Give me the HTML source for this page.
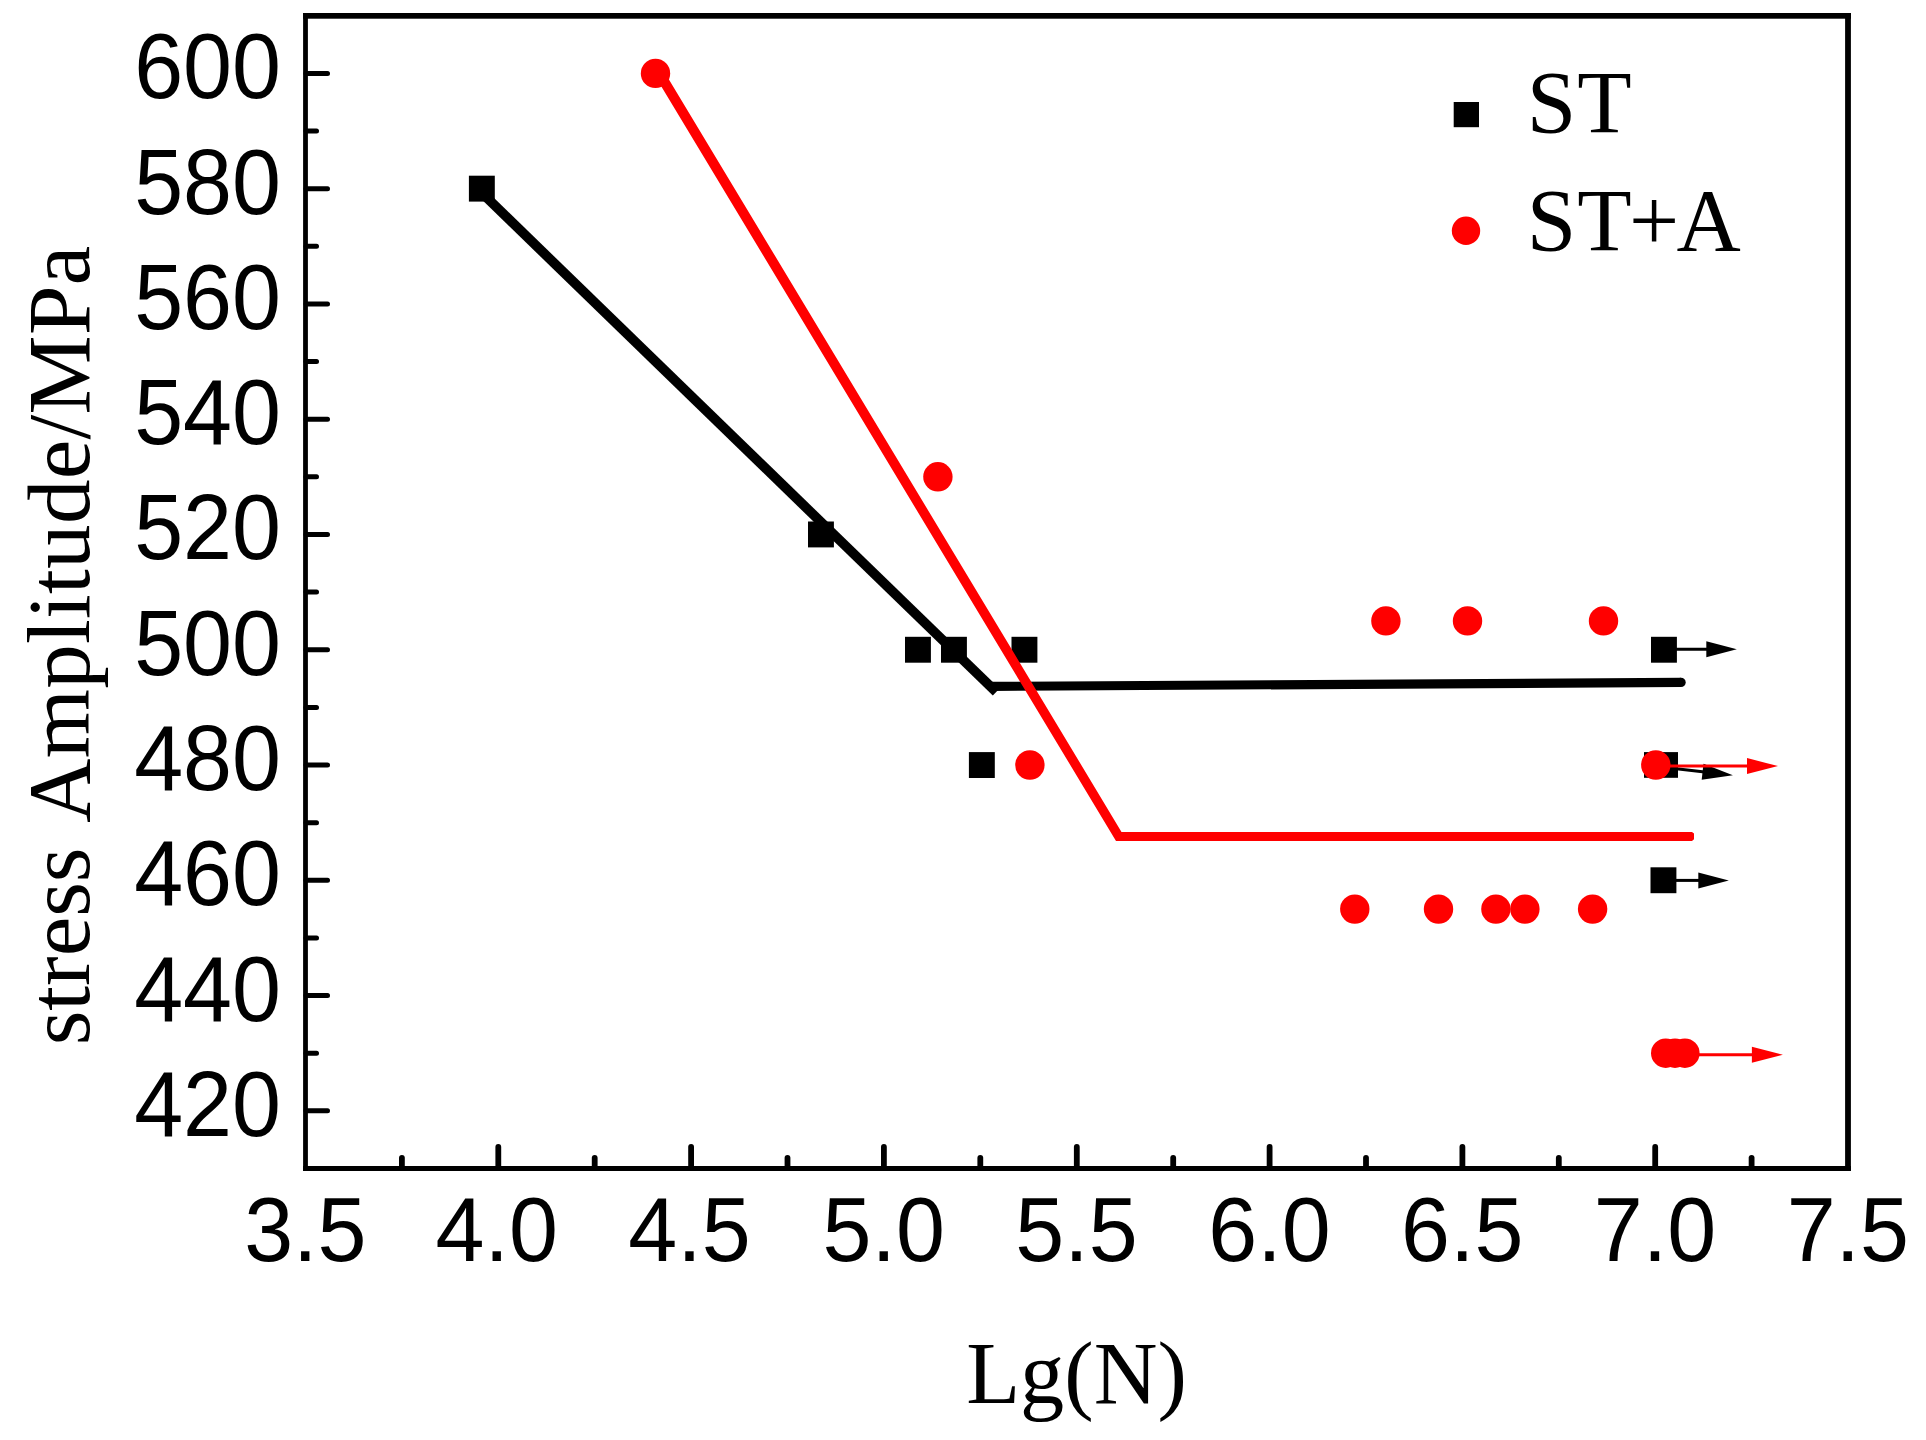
<!DOCTYPE html>
<html lang="en"><head><meta charset="utf-8"><title>S-N curve</title>
<style>html,body{margin:0;padding:0;background:#fff;}body{width:1926px;height:1440px;overflow:hidden;}svg{display:block;}.sans{font-family:"Liberation Sans",Arial,sans-serif;font-size:88px;fill:#000;}.serif{font-family:"Liberation Serif","Times New Roman",serif;font-size:89px;fill:#000;}</style></head><body>
<svg width="1926" height="1440" viewBox="0 0 1926 1440">
<rect x="0" y="0" width="1926" height="1440" fill="#fff"/>
<g stroke="#000" stroke-linecap="round" fill="none">
<line x1="306" y1="1110.8" x2="327.5" y2="1110.8" stroke-width="5"/>
<line x1="306" y1="995.6" x2="327.5" y2="995.6" stroke-width="5"/>
<line x1="306" y1="880.3" x2="327.5" y2="880.3" stroke-width="5"/>
<line x1="306" y1="765.0" x2="327.5" y2="765.0" stroke-width="5"/>
<line x1="306" y1="649.7" x2="327.5" y2="649.7" stroke-width="5"/>
<line x1="306" y1="534.5" x2="327.5" y2="534.5" stroke-width="5"/>
<line x1="306" y1="419.2" x2="327.5" y2="419.2" stroke-width="5"/>
<line x1="306" y1="303.9" x2="327.5" y2="303.9" stroke-width="5"/>
<line x1="306" y1="188.7" x2="327.5" y2="188.7" stroke-width="5"/>
<line x1="306" y1="73.4" x2="327.5" y2="73.4" stroke-width="5"/>
<line x1="306" y1="1053.2" x2="316.5" y2="1053.2" stroke-width="5"/>
<line x1="306" y1="937.9" x2="316.5" y2="937.9" stroke-width="5"/>
<line x1="306" y1="822.7" x2="316.5" y2="822.7" stroke-width="5"/>
<line x1="306" y1="707.4" x2="316.5" y2="707.4" stroke-width="5"/>
<line x1="306" y1="592.1" x2="316.5" y2="592.1" stroke-width="5"/>
<line x1="306" y1="476.8" x2="316.5" y2="476.8" stroke-width="5"/>
<line x1="306" y1="361.6" x2="316.5" y2="361.6" stroke-width="5"/>
<line x1="306" y1="246.3" x2="316.5" y2="246.3" stroke-width="5"/>
<line x1="306" y1="131.0" x2="316.5" y2="131.0" stroke-width="5"/>
<line x1="498.3" y1="1168" x2="498.3" y2="1147" stroke-width="5.8"/>
<line x1="691.1" y1="1168" x2="691.1" y2="1147" stroke-width="5.8"/>
<line x1="883.9" y1="1168" x2="883.9" y2="1147" stroke-width="5.8"/>
<line x1="1076.8" y1="1168" x2="1076.8" y2="1147" stroke-width="5.8"/>
<line x1="1269.6" y1="1168" x2="1269.6" y2="1147" stroke-width="5.8"/>
<line x1="1462.4" y1="1168" x2="1462.4" y2="1147" stroke-width="5.8"/>
<line x1="1655.2" y1="1168" x2="1655.2" y2="1147" stroke-width="5.8"/>
<line x1="401.9" y1="1168" x2="401.9" y2="1157.8" stroke-width="5.8"/>
<line x1="594.7" y1="1168" x2="594.7" y2="1157.8" stroke-width="5.8"/>
<line x1="787.5" y1="1168" x2="787.5" y2="1157.8" stroke-width="5.8"/>
<line x1="980.3" y1="1168" x2="980.3" y2="1157.8" stroke-width="5.8"/>
<line x1="1173.2" y1="1168" x2="1173.2" y2="1157.8" stroke-width="5.8"/>
<line x1="1366.0" y1="1168" x2="1366.0" y2="1157.8" stroke-width="5.8"/>
<line x1="1558.8" y1="1168" x2="1558.8" y2="1157.8" stroke-width="5.8"/>
<line x1="1751.6" y1="1168" x2="1751.6" y2="1157.8" stroke-width="5.8"/>
</g>
<g fill="#000">
<rect x="303.1" y="13" width="4.8" height="1158"/>
<rect x="1845.1" y="13" width="5.8" height="1158"/>
<rect x="303.1" y="13" width="1547.8" height="5.7"/>
<rect x="303.1" y="1166" width="1547.8" height="5"/>
</g>
<g class="sans" text-anchor="end">
<text transform="translate(281 1135.7) scale(1 1.048)">420</text>
<text transform="translate(281 1020.5) scale(1 1.048)">440</text>
<text transform="translate(281 905.2) scale(1 1.048)">460</text>
<text transform="translate(281 789.9) scale(1 1.048)">480</text>
<text transform="translate(281 674.6) scale(1 1.048)">500</text>
<text transform="translate(281 559.4) scale(1 1.048)">520</text>
<text transform="translate(281 444.1) scale(1 1.048)">540</text>
<text transform="translate(281 328.8) scale(1 1.048)">560</text>
<text transform="translate(281 213.6) scale(1 1.048)">580</text>
<text transform="translate(281 98.3) scale(1 1.048)">600</text>
</g>
<g class="sans" text-anchor="middle">
<text transform="translate(305.3 1260.8) scale(1 1.04)">3.5</text>
<text transform="translate(496.7 1260.8) scale(1 1.04)">4.0</text>
<text transform="translate(689.5 1260.8) scale(1 1.04)">4.5</text>
<text transform="translate(883.7 1260.8) scale(1 1.04)">5.0</text>
<text transform="translate(1076.5 1260.8) scale(1 1.04)">5.5</text>
<text transform="translate(1269.4 1260.8) scale(1 1.04)">6.0</text>
<text transform="translate(1462.2 1260.8) scale(1 1.04)">6.5</text>
<text transform="translate(1655.0 1260.8) scale(1 1.04)">7.0</text>
<text transform="translate(1847.8 1260.8) scale(1 1.04)">7.5</text>
</g>
<text class="serif" text-anchor="middle" x="1076.5" y="1402.8" style="font-size:88.3px">Lg(N)</text>
<text class="serif" transform="translate(89.2 1045.3) rotate(-90)">stress</text>
<text class="serif" transform="translate(89.2 822.8) rotate(-90)" textLength="577" lengthAdjust="spacing">Amplitude/MPa</text>
<rect x="1453.7" y="102" width="25.3" height="25.2" fill="#000"/>
<circle cx="1466" cy="230.8" r="14.2" fill="#f00"/>
<text class="serif" x="1526.7 1577.2" y="132.3">ST</text>
<text class="serif" x="1526.7 1577.2 1629 1676.5" y="249.5">ST+A</text>
<rect x="468.9" y="175.7" width="25.9" height="25.9" fill="#000"/>
<rect x="808.0" y="521.5" width="25.9" height="25.9" fill="#000"/>
<rect x="905.0" y="636.8" width="25.9" height="25.9" fill="#000"/>
<rect x="941.0" y="636.8" width="25.9" height="25.9" fill="#000"/>
<rect x="1011.5" y="636.8" width="25.9" height="25.9" fill="#000"/>
<rect x="968.9" y="752.1" width="25.9" height="25.9" fill="#000"/>
<rect x="1651.0" y="636.8" width="25.9" height="25.9" fill="#000"/>
<rect x="1650.5" y="867.3" width="25.9" height="25.9" fill="#000"/>
<rect x="1644" y="752.1" width="34" height="25.7" fill="#000"/>
<line x1="1670.0" y1="649.2" x2="1708.3" y2="649.2" stroke="#000" stroke-width="3"/>
<polygon points="1736.8,649.2 1706.3,657.2 1706.3,641.2" fill="#000"/>
<line x1="1670.0" y1="880.4" x2="1700.3" y2="880.4" stroke="#000" stroke-width="3"/>
<polygon points="1728.8,880.4 1698.3,888.4 1698.3,872.4" fill="#000"/>
<line x1="1670.0" y1="768.1" x2="1704.6" y2="772.0" stroke="#000" stroke-width="3"/>
<polygon points="1732.9,775.2 1701.7,779.7 1703.5,763.8" fill="#000"/>
<line x1="482" y1="193.1" x2="996.2" y2="692.1" stroke="#000" stroke-width="9.7" stroke-linecap="butt"/>
<path d="M992 686.4 L1681 682.4" stroke="#000" stroke-width="9.2" fill="none"/>
<circle cx="1681" cy="682.4" r="4.7" fill="#000"/>
<circle cx="655.5" cy="73.4" r="14.7" fill="#f00"/>
<circle cx="937.9" cy="476.8" r="14.7" fill="#f00"/>
<circle cx="1029.9" cy="765.0" r="14.7" fill="#f00"/>
<circle cx="1385.9" cy="620.9" r="14.7" fill="#f00"/>
<circle cx="1467.5" cy="620.9" r="14.7" fill="#f00"/>
<circle cx="1603.5" cy="620.9" r="14.7" fill="#f00"/>
<circle cx="1354.8" cy="909.1" r="14.7" fill="#f00"/>
<circle cx="1438.5" cy="909.1" r="14.7" fill="#f00"/>
<circle cx="1495.9" cy="909.1" r="14.7" fill="#f00"/>
<circle cx="1524.9" cy="909.1" r="14.7" fill="#f00"/>
<circle cx="1592.6" cy="909.1" r="14.7" fill="#f00"/>
<circle cx="1655.8" cy="765.0" r="14.7" fill="#f00"/>
<circle cx="1665.7" cy="1053.2" r="14.7" fill="#f00"/>
<circle cx="1675.0" cy="1053.2" r="14.7" fill="#f00"/>
<circle cx="1684.9" cy="1053.2" r="14.7" fill="#f00"/>
<line x1="1660.0" y1="766.1" x2="1749.0" y2="766.1" stroke="#f00" stroke-width="3"/>
<polygon points="1778.0,766.1 1747.0,774.1 1747.0,758.1" fill="#f00"/>
<line x1="1690.0" y1="1054.8" x2="1753.9" y2="1054.8" stroke="#f00" stroke-width="3"/>
<polygon points="1782.9,1054.8 1751.9,1062.8 1751.9,1046.8" fill="#f00"/>
<polygon points="653.5,73.4 665.3,73.4 1121.5,831.9 1692,831.9 1694,833.5 1694,839.3 1692,840.9 1116,840.9" fill="#f00"/>
</svg></body></html>
